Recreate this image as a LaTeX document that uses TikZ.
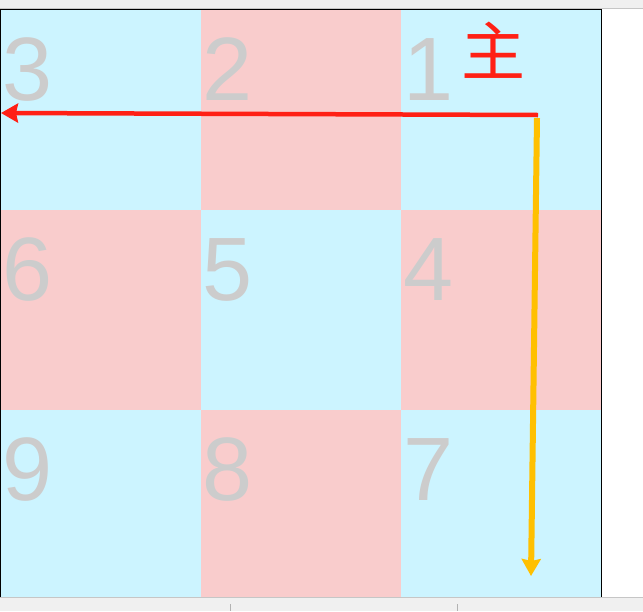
\documentclass[tikz,border=0pt]{standalone}
\usepackage{fontspec}
\setmainfont{Liberation Sans}
\newfontfamily\cjk{Noto Sans CJK SC}
\usetikzlibrary{arrows.meta}
\definecolor{cellblue}{HTML}{CCF4FF}
\definecolor{cellpink}{HTML}{F9CCCC}
\definecolor{numgray}{HTML}{CCCCCC}
\definecolor{bargray}{HTML}{F0F0F0}
\definecolor{mainred}{HTML}{FF2015}
\definecolor{arrowyellow}{HTML}{FFC000}
\begin{document}
\begin{tikzpicture}[x=1pt,y=-1pt,
  num/.style={anchor=base west,inner sep=0pt,text=numgray,font=\fontsize{90}{90}\selectfont}]
\useasboundingbox (0,0) rectangle (643,611);
\fill[bargray] (0,0) rectangle (643,9);
\draw[gray!45] (0,8.5)--(643,8.5);
\fill[bargray] (0,597) rectangle (643,611);
\draw[gray!45] (0,597.5)--(643,597.5);
\draw[gray!60] (230,604)--(230,611) (457,604)--(457,611);
% cells
\foreach \n [count=\i from 0] in {3,2,1,6,5,4,9,8,7}{
  \pgfmathtruncatemacro{\c}{mod(\i,3)}
  \pgfmathtruncatemacro{\r}{div(\i,3)}
  \pgfmathtruncatemacro{\odd}{mod(\c+\r,2)}
  \ifnum\odd=0 \def\col{cellblue}\else\def\col{cellpink}\fi
  \fill[\col] (\c*200.5,10+\r*200) rectangle ({(\c+1)*200.5},{min(597,10+(\r+1)*200)});
  \node[num] (n\n) at (\c*200.5+2,100+\r*200) {\n};
}
\draw[line width=1pt] (0.5,597)--(0.5,9.5)--(601,9.5)--(601,597);
\node[inner sep=0pt,text=mainred,font=\cjk\fontsize{64}{64}\selectfont] (zhu) at (493,50) {主};
\coordinate (start) at (538,115);
\coordinate (left) at (1,113);
\coordinate (down) at (531,576);
\draw[mainred,line width=4.5pt,-{Stealth[length=17pt,width=19pt,inset=2pt]}] (start)--(left);
\draw[arrowyellow,line width=6pt,-{Stealth[length=17pt,width=19pt,inset=2pt]}] (537,118)--(down);
\end{tikzpicture}
\end{document}
